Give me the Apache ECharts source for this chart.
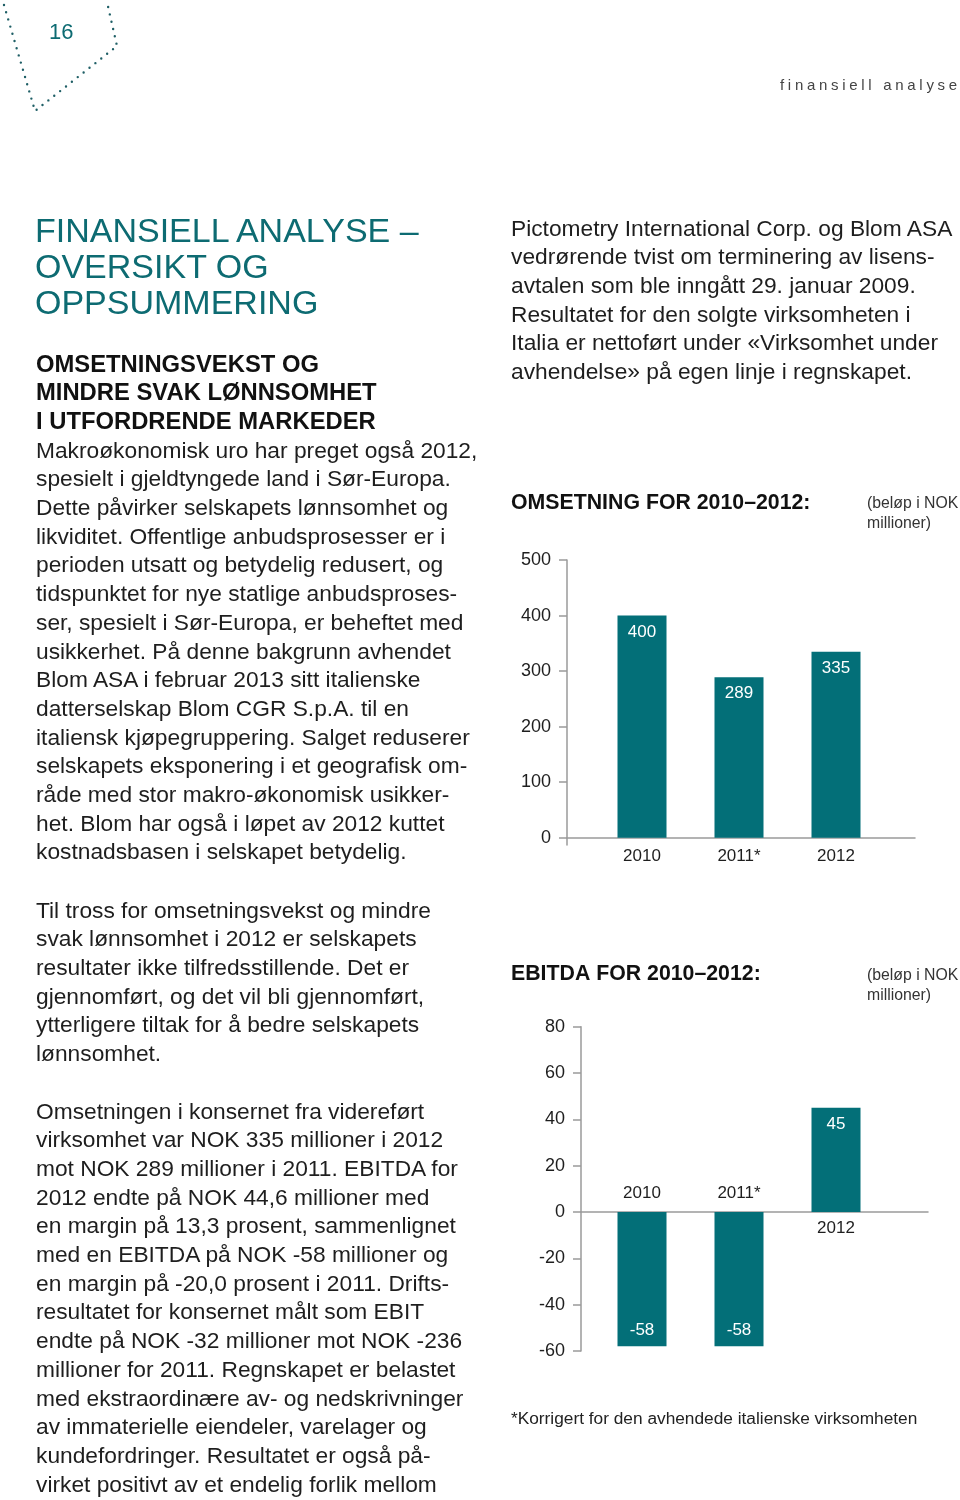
<!DOCTYPE html>
<html>
<head>
<meta charset="utf-8">
<script src="https://cdn.jsdelivr.net/npm/echarts@6/dist/echarts.min.js"></script>
<style>
  html, body { margin:0; padding:0; background:#fff; }
  #page { position:relative; width:960px; height:1500px; overflow:hidden; font-family:"Liberation Sans", Arial, sans-serif; }
  #chart { position:absolute; left:0; top:0; width:960px; height:1500px; }
  .t { position:absolute; white-space:nowrap; color:#1e1e1e; }
  .body { font-size:22.75px; line-height:28.7px; }
  .head { font-weight:bold; font-size:23.8px; color:#111; }
  .title { color:#0d6b72; font-size:34px; line-height:36px; }
</style>
</head>
<body>
<div id="page">
  <div id="chart"></div>
  <svg style="position:absolute;left:0;top:0" width="140" height="130">
    <polyline points="4,5 35,111 117,46 107,2" fill="none" stroke="#1f5f66" stroke-width="2.4" stroke-linecap="round" stroke-dasharray="0 7.5"/>
  </svg>
  <div class="t" style="left:49px;top:19px;font-size:22px;color:#0d6b72;">16</div>
  <div class="t" style="left:780px;top:76px;font-size:15px;letter-spacing:3.7px;color:#444;">finansiell analyse</div>

  <div class="t title" style="left:35px;top:212px;">FINANSIELL ANALYSE –<br>OVERSIKT OG<br>OPPSUMMERING</div>

  <div class="t body" style="left:36px;top:349.5px;">
    <span class="head">OMSETNINGSVEKST OG</span><br>
    <span class="head">MINDRE SVAK LØNNSOMHET</span><br>
    <span class="head">I UTFORDRENDE MARKEDER</span><br>
    Makroøkonomisk uro har preget også 2012,<br>
    spesielt i gjeldtyngede land i Sør-Europa.<br>
    Dette påvirker selskapets lønnsomhet og<br>
    likviditet. Offentlige anbudsprosesser er i<br>
    perioden utsatt og betydelig redusert, og<br>
    tidspunktet for nye statlige anbudsproses-<br>
    ser, spesielt i Sør-Europa, er beheftet med<br>
    usikkerhet. På denne bakgrunn avhendet<br>
    Blom ASA i februar 2013 sitt italienske<br>
    datterselskap Blom CGR S.p.A. til en<br>
    italiensk kjøpegruppering. Salget reduserer<br>
    selskapets eksponering i et geografisk om-<br>
    råde med stor makro-økonomisk usikker-<br>
    het. Blom har også i løpet av 2012 kuttet<br>
    kostnadsbasen i selskapet betydelig.
  </div>

  <div class="t body" style="left:36px;top:895.5px;">
    Til tross for omsetningsvekst og mindre<br>
    svak lønnsomhet i 2012 er selskapets<br>
    resultater ikke tilfredsstillende. Det er<br>
    gjennomført, og det vil bli gjennomført,<br>
    ytterligere tiltak for å bedre selskapets<br>
    lønnsomhet.
  </div>

  <div class="t body" style="left:36px;top:1096.5px;">
    Omsetningen i konsernet fra videreført<br>
    virksomhet var NOK 335 millioner i 2012<br>
    mot NOK 289 millioner i 2011. EBITDA for<br>
    2012 endte på NOK 44,6 millioner med<br>
    en margin på 13,3 prosent, sammenlignet<br>
    med en EBITDA på NOK -58 millioner og<br>
    en margin på -20,0 prosent i 2011. Drifts-<br>
    resultatet for konsernet målt som EBIT<br>
    endte på NOK -32 millioner mot NOK -236<br>
    millioner for 2011. Regnskapet er belastet<br>
    med ekstraordinære av- og nedskrivninger<br>
    av immaterielle eiendeler, varelager og<br>
    kundefordringer. Resultatet er også på-<br>
    virket positivt av et endelig forlik mellom
  </div>

  <div class="t body" style="left:511px;top:213.5px;">
    Pictometry International Corp. og Blom ASA<br>
    vedrørende tvist om terminering av lisens-<br>
    avtalen som ble inngått 29. januar 2009.<br>
    Resultatet for den solgte virksomheten i<br>
    Italia er nettoført under «Virksomhet under<br>
    avhendelse» på egen linje i regnskapet.
  </div>
</div>
<script>
// ---- data ----
const years = ['2010', '2011*', '2012'];
const revenue = [400, 289, 335];
const ebitda = [-58, -58, 45];
const revenueTicks = [0, 100, 200, 300, 400, 500];
const ebitdaTicks = [-60, -40, -20, 0, 20, 40, 60, 80];

const TEAL = '#036f78';
const AXIS = '#9a9a9a';
const FONT = '"Liberation Sans", Arial, sans-serif';

const chart = echarts.init(document.getElementById('chart'), null, { renderer: 'canvas' });

// layout constants (pixels)
const BAR_LEFT = 593.5, BAR_W = 291;
const R_TOP = 560, R_H = 285, R_MIN = -13;           // revenue axis (extends slightly below 0)
const R_MAX = revenueTicks[revenueTicks.length - 1];
const E_TOP = 1026.7, E_H = 324.3;
const E_MIN = ebitdaTicks[0], E_MAX = ebitdaTicks[ebitdaTicks.length - 1];
const R_ZERO_H = R_H * R_MAX / (R_MAX - R_MIN);      // height from top to zero line
const E_ZERO_H = E_H * E_MAX / (E_MAX - E_MIN);

const hidden = { show: false };
function visibleY(gridIndex, min, max, ticks, interval) {
  const ax = {
    type: 'value', gridIndex, min, max,
    axisLine: { show: true, lineStyle: { color: AXIS, width: 1.5 } },
    axisTick: { show: true, length: 8, lineStyle: { color: AXIS, width: 1.5 } },
    axisLabel: { show: true, margin: 16, fontSize: 18, color: '#1e1e1e', fontFamily: FONT },
    splitLine: hidden
  };
  if (interval) { ax.interval = interval; }
  else { ax.axisTick.customValues = ticks; ax.axisLabel.customValues = ticks; }
  return ax;
}
function baseX(gridIndex, yIndex) {
  return {
    type: 'value', gridIndex, min: 0, max: 1,
    axisLine: { show: true, onZero: true, onZeroAxisIndex: yIndex, lineStyle: { color: AXIS, width: 1.5 } },
    axisTick: hidden, axisLabel: hidden, splitLine: hidden
  };
}
function catX(gridIndex, position, inside, fmt, margin) {
  return {
    type: 'category', gridIndex, data: years, position,
    axisLine: { show: false, onZero: false },
    axisTick: hidden, splitLine: hidden,
    axisLabel: { show: true, inside, margin, fontSize: 17, color: '#1e1e1e', fontFamily: FONT, formatter: fmt }
  };
}
function hiddenY(gridIndex, min, max) {
  return { type: 'value', gridIndex, min, max, show: false, splitLine: hidden };
}
const barLabel = { show: true, color: '#ffffff', fontSize: 17, fontFamily: FONT, distance: 8 };

const option = {
  animation: false,
  title: [
    { text: 'OMSETNING FOR 2010–2012:', left: 511, top: 493, padding: 0, textStyle: { fontSize: 21.3, fontWeight: 'bold', color: '#111', fontFamily: FONT } },
    { text: '(beløp i NOK\nmillioner)', left: 867, top: 493.5, padding: 0, textStyle: { fontSize: 15.8, fontWeight: 'normal', lineHeight: 20, color: '#333', fontFamily: FONT } },
    { text: 'EBITDA FOR 2010–2012:', left: 511, top: 964, padding: 0, textStyle: { fontSize: 21.3, fontWeight: 'bold', color: '#111', fontFamily: FONT } },
    { text: '(beløp i NOK\nmillioner)', left: 867, top: 965.5, padding: 0, textStyle: { fontSize: 15.8, fontWeight: 'normal', lineHeight: 20, color: '#333', fontFamily: FONT } },
    { text: '*Korrigert for den avhendede italienske virksomheten', left: 511, top: 1411, padding: 0, textStyle: { fontSize: 17.3, fontWeight: 'normal', color: '#222', fontFamily: FONT } }
  ],
  grid: [
    { left: 567, top: R_TOP, width: 348, height: R_H },                          // 0 revenue axes
    { left: BAR_LEFT, top: R_TOP, width: BAR_W, height: R_ZERO_H },              // 1 revenue bars
    { left: 581, top: E_TOP, width: 347, height: E_H },                          // 2 ebitda axes
    { left: BAR_LEFT, top: E_TOP, width: BAR_W, height: E_H },                   // 3 ebitda bars
    { left: BAR_LEFT, top: E_TOP, width: BAR_W, height: E_ZERO_H },              // 4 labels above zero
    { left: BAR_LEFT, top: E_TOP + E_ZERO_H, width: BAR_W, height: E_H - E_ZERO_H } // 5 labels below zero
  ],
  xAxis: [
    baseX(0, 0),
    catX(1, 'bottom', false, v => v, 10),
    baseX(2, 2),
    Object.assign(catX(3, 'bottom', false, () => '', 8), { show: false }),
    catX(4, 'bottom', true, (v, i) => ebitda[i] < 0 ? v : '', 10),
    catX(5, 'top', true, (v, i) => ebitda[i] >= 0 ? v : '', 8)
  ],
  yAxis: [
    visibleY(0, R_MIN, R_MAX, revenueTicks),
    hiddenY(1, 0, R_MAX),
    visibleY(2, E_MIN, E_MAX, ebitdaTicks, 20),
    hiddenY(3, E_MIN, E_MAX),
    hiddenY(4, 0, E_MAX),
    hiddenY(5, E_MIN, 0)
  ],
  series: [
    {
      type: 'bar', xAxisIndex: 1, yAxisIndex: 1, barWidth: 49,
      itemStyle: { color: TEAL },
      label: Object.assign({ position: 'insideTop' }, barLabel),
      data: revenue
    },
    {
      type: 'bar', xAxisIndex: 3, yAxisIndex: 3, barWidth: 49,
      itemStyle: { color: TEAL },
      data: ebitda.map(v => ({
        value: v,
        label: Object.assign({ position: v < 0 ? 'insideBottom' : 'insideTop' }, barLabel)
      }))
    }
  ]
};
chart.setOption(option);
</script>
</body>
</html>
